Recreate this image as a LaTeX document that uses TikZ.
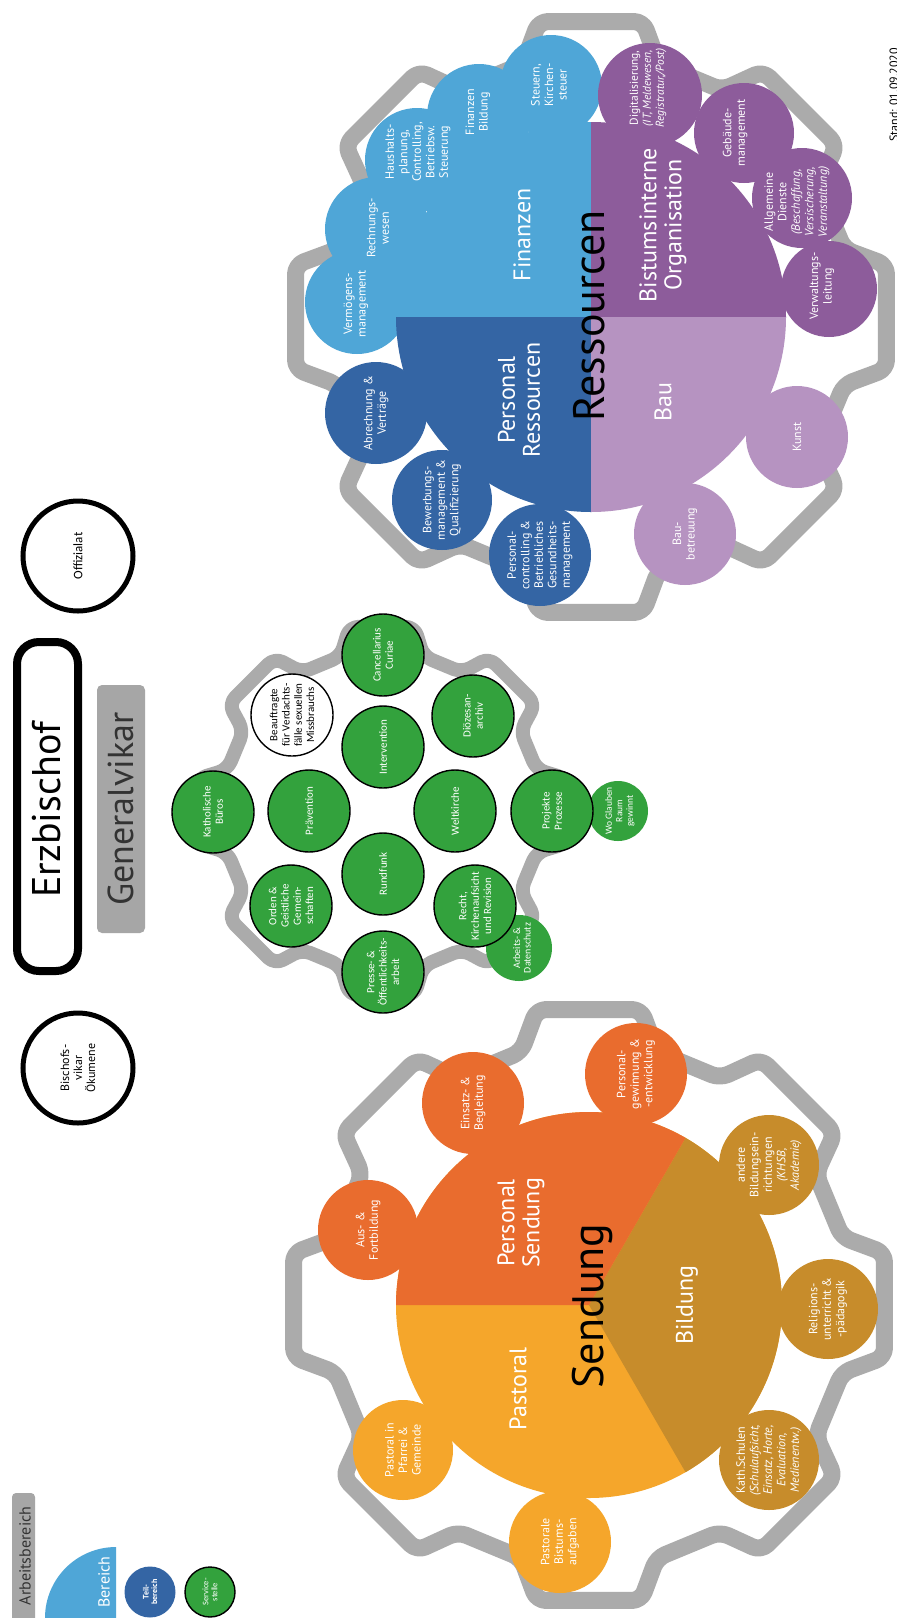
\documentclass[tikz,border=0pt]{standalone}
\usepackage{fontspec}
\setmainfont{PT Sans}
\newfontfamily\calfont{Carlito}
\usetikzlibrary{calc}
\definecolor{cOrange}{HTML}{E96C2E}
\definecolor{cPast}{HTML}{F5A62B}
\definecolor{cBild}{HTML}{C78C2B}
\definecolor{cLBlue}{HTML}{4FA6D7}
\definecolor{cDBlue}{HTML}{3465A4}
\definecolor{cPurp}{HTML}{8D5C9B}
\definecolor{cLPurp}{HTML}{B693C1}
\definecolor{cGreen}{HTML}{33A23D}
\definecolor{cGear}{HTML}{ABABAB}
\definecolor{cBox}{HTML}{A6A6A6}
\definecolor{cDark}{HTML}{333333}
\tikzset{
  gearline/.style={draw=cGear, line width=#1, rounded corners=9pt, line join=round},
  lbl/.style={rotate=90, align=center, text=white, inner sep=0pt, font=\fontsize{12}{13.5}\selectfont},
  glbl/.style={rotate=90, align=center, text=white, inner sep=0pt, font=\calfont\fontsize{11}{12.3}\selectfont},
  biglbl/.style={rotate=90, align=center, text=white, inner sep=0pt, font=\fontsize{24}{25}\selectfont},
  hugelbl/.style={rotate=90, align=center, text=black, inner sep=0pt, font=\fontsize{44}{44}\selectfont},
  ringc/.style={draw=black, line width=5pt, fill=white},
  gcirc/.style={draw=black, line width=1.4pt, fill=cGreen},
}
\newcommand{\cogwheel}[5]{%
  \begin{scope}[shift={(#1,#2)}]
    \draw[gearline=#5] (10:#3pt)
      \foreach \k in {45,90,...,315}{ -- ({\k-30}:#4pt) -- ({\k-15}:#4pt) -- ({\k-10}:#3pt) -- ({\k+10}:#3pt) }
      -- (330:#4pt) -- (345:#4pt) -- (350:#3pt) -- cycle;
  \end{scope}}
\begin{document}
\begin{tikzpicture}[x=1pt,y=-1pt]
\useasboundingbox (0,0) rectangle (897,1618);
\fill[white] (0,0) rectangle (897,1618);
\clip (0,0) rectangle (897,1618);

% ---------- gears
\cogwheel{589}{1305}{300}{262}{17pt}
\cogwheel{591}{317}{300}{262}{17pt}
\cogwheel{382}{811}{187}{160}{14pt}

% ---------- top left
\draw[ringc] (78,556) circle[radius=55pt];
\node[rotate=90, inner sep=0pt, font=\calfont\fontsize{13}{13}\selectfont] (offz) at (78,556) {Offizialat};
\draw[line width=8pt, rounded corners=22pt] (17,642) rectangle (78,971);
\node[rotate=90, inner sep=0pt, font=\fontsize{40}{40}\selectfont] (erz) at (47,810) {Erzbischof};
\fill[cBox, rounded corners=5pt] (97,685) rectangle (145,933);
\node[rotate=90, inner sep=0pt, text=cDark, font=\fontsize{36}{36}\selectfont] (gv) at (121,809) {Generalvikar};
\draw[ringc] (78,1068) circle[radius=55pt];
\node[rotate=90, align=center, inner sep=0pt, font=\fontsize{12}{13}\selectfont] (bisch) at (78,1068) {Bischofs-\\vikar\\Ökumene};

% ---------- legend
\fill[cBox, rounded corners=4pt] (12,1493) rectangle (35,1650);
\node[rotate=90, inner sep=0pt, text=cDark, font=\fontsize{16}{16}\selectfont] (arb) at (25,1556) {Arbeitsbereich};
\begin{scope}
  \clip (0,1500) rectangle (116,1618);
  \fill[cLBlue] (116,1618) circle[radius=71pt];
\end{scope}
\node[rotate=90, inner sep=0pt, text=white, font=\fontsize{16}{16}\selectfont] (ber) at (104,1582) {Bereich};
\fill[cDBlue] (150,1592) circle[radius=25.5pt];
\node[rotate=90, align=center, inner sep=0pt, text=white, font=\bfseries\fontsize{8}{8.5}\selectfont] (teil) at (150,1592) {Teil-\\bereich};
\draw[gcirc] (210,1592) circle[radius=25pt];
\node[rotate=90, align=center, inner sep=0pt, text=white, font=\calfont\fontsize{8.5}{9}\selectfont] (serv) at (210,1592) {Service-\\stelle};

% ---------- Sendung
\fill[cPast] (589,1305) circle[radius=193pt];
\begin{scope}
  \clip (589,1305) -- (889,785.4) -- (889,1824.6) -- cycle;
  \fill[cBild] (589,1305) circle[radius=193pt];
\end{scope}
\begin{scope}
  \clip (589,1305) -- (789,958.6) -- (350,958.6) -- (350,1305) -- cycle;
  \fill[cOrange] (589,1305) circle[radius=193pt];
\end{scope}
\fill[cOrange] (368,1230) circle[radius=50pt];
\fill[cOrange] (473,1103) circle[radius=51pt];
\fill[cOrange] (636,1074) circle[radius=51pt];
\fill[cBild] (769,1165) circle[radius=50pt];
\fill[cBild] (828,1309) circle[radius=50pt];
\fill[cBild] (769,1460) circle[radius=50pt];
\fill[cPast] (560,1542) circle[radius=51pt];
\fill[cPast] (403,1450) circle[radius=50pt];
\node[lbl] (aus) at (368,1230) {Aus- \&\\Fortbildung};
\node[lbl] (einsatz) at (473,1103) {Einsatz- \&\\Begleitung};
\node[lbl] (persgew) at (636,1074) {Personal-\\gewinnung \&\\-entwicklung};
\node[lbl] (andere) at (769,1165) {andere\\Bildungsein-\\richtungen\\\textit{(KHSB,}\\\textit{Akademie)}};
\node[lbl] (relig) at (828,1309) {Religions-\\unterricht \&\\-pädagogik};
\node[lbl] (kath) at (769,1460) {Kath.Schulen\\\textit{(Schulaufsicht,}\\\textit{Einsatz, Horte,}\\\textit{Evaluation,}\\\textit{Medienentw.)}};
\node[lbl] (pastb) at (560,1542) {Pastorale\\Bistums-\\aufgaben};
\node[lbl] (pfarr) at (403,1450) {Pastoral in\\Pfarrei \&\\Gemeinde};
\node[biglbl] (lpast) at (518,1389) {Pastoral};
\node[biglbl] (lpers) at (521,1223) {Personal\\Sendung};
\node[biglbl] (lbild) at (687,1305) {Bildung};
\node[hugelbl] (lsend) at (592,1306) {Sendung};

% ---------- green service cluster
\fill[cGreen] (519,948) circle[radius=33pt];
\fill[cGreen] (618,811) circle[radius=30pt];
\draw[gcirc] (213,812) circle[radius=41pt];
\draw[black, line width=1.4pt, fill=white] (292,715) circle[radius=41pt];
\draw[gcirc] (309,811) circle[radius=41pt];
\draw[gcirc] (291,906) circle[radius=41pt];
\draw[gcirc] (383,655) circle[radius=41pt];
\draw[gcirc] (383,747) circle[radius=41pt];
\draw[gcirc] (383,874) circle[radius=41pt];
\draw[gcirc] (383,972) circle[radius=41pt];
\draw[gcirc] (473,716) circle[radius=41pt];
\draw[gcirc] (455,811) circle[radius=41pt];
\draw[gcirc] (475,906) circle[radius=41pt];
\draw[gcirc] (552,811) circle[radius=41pt];
\node[glbl] (kathb) at (213,812) {Katholische\\Büros};
\node[glbl, text=black] (beauf) at (292,715) {Beauftragte\\für Verdachts-\\fälle sexuellen\\Missbrauchs};
\node[glbl] (praev) at (309,811) {Prävention};
\node[glbl] (orden) at (291,906) {Orden \&\\Geistliche\\Gemein-\\schaften};
\node[glbl] (canc) at (383,655) {Cancellarius\\Curiae};
\node[glbl] (interv) at (383,747) {Intervention};
\node[glbl] (rundf) at (383,874) {Rundfunk};
\node[glbl] (presse) at (383,972) {Presse- \&\\Öffentlichkeits-\\arbeit};
\node[glbl] (dioez) at (473,716) {Diözesan-\\archiv};
\node[glbl] (welt) at (455,811) {Weltkirche};
\node[glbl] (recht) at (475,906) {Recht,\\Kirchenaufsicht\\und Revision};
\node[glbl] (proj) at (552,811) {Projekte\\Prozesse};
\node[glbl, font=\calfont\fontsize{10}{10.5}\selectfont] (arbds) at (522,948) {Arbeits- \&\\Datenschutz};
\node[glbl, font=\calfont\fontsize{9.5}{10.5}\selectfont] (woglb) at (620,811) {Wo Glauben\\Raum\\gewinnt};

% ---------- Ressourcen
\fill[cLBlue] (357,302) circle[radius=52pt];
\fill[cLBlue] (377,229) circle[radius=52pt];
\fill[cLBlue] (417,160) circle[radius=52pt];
\fill[cLBlue] (479,116) circle[radius=52pt];
\fill[cLBlue] (551,86) circle[radius=51pt];
\fill[cDBlue] (376,413) circle[radius=51pt];
\fill[cDBlue] (442,500) circle[radius=50pt];
\fill[cDBlue] (540,555) circle[radius=51pt];
\fill[cLPurp] (797,437) circle[radius=51pt];
\fill[cLPurp] (685,534) circle[radius=51pt];
\fill[cPurp] (650,95) circle[radius=52pt];
\fill[cPurp] (744,133) circle[radius=50pt];
\fill[cPurp] (802,198) circle[radius=50pt];
\fill[cPurp] (829,289) circle[radius=48pt];
\begin{scope}
  \clip (380,100) rectangle (591,317);
  \fill[cLBlue] (591,317) circle[radius=195pt];
\end{scope}
\begin{scope}
  \clip (591,100) rectangle (800,317);
  \fill[cPurp] (591,317) circle[radius=195pt];
\end{scope}
\begin{scope}
  \clip (380,317) rectangle (591,530);
  \fill[cDBlue] (591,317) circle[radius=195pt];
\end{scope}
\begin{scope}
  \clip (591,317) rectangle (800,530);
  \fill[cLPurp] (591,317) circle[radius=195pt];
\end{scope}
\node[lbl] (verm) at (356,304) {Vermögens-\\management};
\node[lbl] (rechn) at (378,228) {Rechnungs-\\wesen};
\node[lbl] (haush) at (418,152) {Haushalts-\\planung,\\Controlling,\\Betriebsw.\\Steuerung};
\node[lbl] (finb) at (478,112) {Finanzen\\Bildung};
\node[lbl] (steuer) at (549,85) {Steuern,\\Kirchen-\\steuer};
\node[lbl, font=\fontsize{11.5}{13}\selectfont] (digi) at (648,88) {Digitalisierung,\\\textit{(IT, Meldewesen,}\\\textit{Registratur,/Post)}};
\node[lbl] (gebm) at (735,133) {Gebäude-\\management};
\node[lbl] (allg) at (797,202) {Allgemeine\\Dienste\\\textit{(Beschaffung,}\\\textit{Versischerung,}\\\textit{Veranstaltung)}};
\node[lbl] (verw) at (822,286) {Verwaltungs-\\leitung};
\node[lbl] (kunst) at (797,437) {Kunst};
\node[lbl] (baub) at (685,534) {Bau-\\betreuung};
\node[lbl] (abr) at (376,413) {Abrechnung \&\\Verträge};
\node[lbl] (bew) at (442,500) {Bewerbungs-\\management \&\\Qualifizierung};
\node[lbl] (pctrl) at (540,555) {Personal-\\controlling \&\\Betriebliches\\Gesundheits-\\management};
\node[biglbl] (lpr) at (519,400) {Personal\\Ressourcen};
\node[biglbl] (lfin) at (522,235) {Finanzen};
\node[biglbl] (lbo) at (663,225) {Bistumsinterne\\Organisation};
\node[biglbl] (lbau) at (663,402) {Bau};
\node[hugelbl] (lres) at (589,316) {Ressourcen};

% ---------- date
\node[rotate=90, anchor=base, inner sep=0pt, font=\fontsize{12}{12}\selectfont] (stand) at (898,95) {Stand: 01.09.2020};
\end{tikzpicture}
\end{document}
